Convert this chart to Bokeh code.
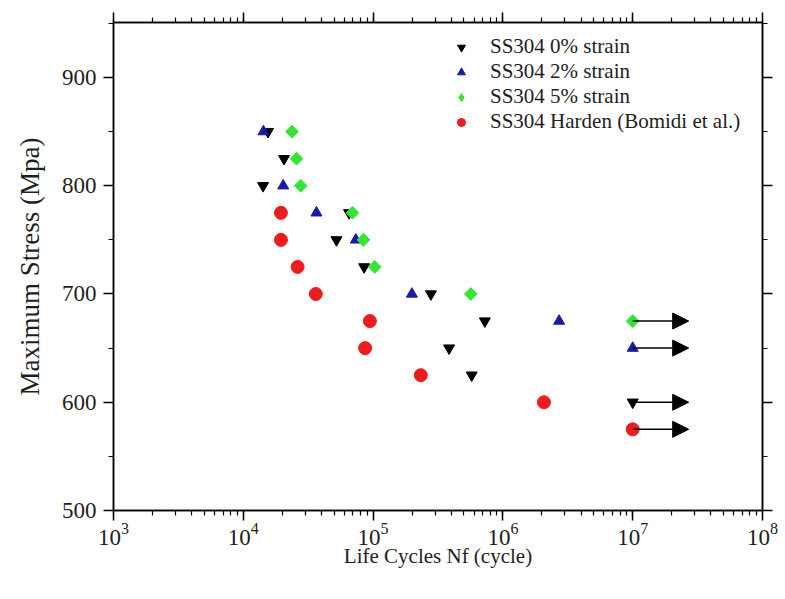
import math
from bokeh.plotting import figure
from bokeh.models import (LogAxis, LinearAxis, Range1d, LogTicker, SingleIntervalTicker,
                          Legend, LegendItem, Arrow, NormalHead, CustomJSTickFormatter)
from bokeh.embed import file_html
from bokeh.resources import INLINE

# ---- data ----
s0_cycles = [15500, 20600, 14200, 65300, 52200, 85300, 279000, 726000, 385000, 575000, 1.0e7]
s0_stress = [850, 825, 800, 775, 750, 725, 700, 675, 650, 625, 600]

s2_cycles = [14300, 20300, 36600, 73600, 199000, 2710000, 1.0e7]
s2_stress = [850, 800, 775, 750, 700, 675, 650]

s5_cycles = [23700, 25700, 27700, 69300, 84300, 103000, 566000, 1.0e7]
s5_stress = [850, 825, 800, 775, 750, 725, 700, 675]

hard_cycles = [19500, 19500, 26200, 36200, 94400, 86800, 233000, 2070000, 1.0e7]
hard_stress = [775, 750, 725, 700, 675, 650, 625, 600, 575]

# run-out arrows (start, end, stress)
runout_start = [1.0e7, 1.0e7, 1.0e7, 1.0e7]
runout_end = [2.7e7, 2.7e7, 2.7e7, 2.7e7]
runout_stress = [675, 650, 600, 575]

labels = ["SS304 0% strain", "SS304 2% strain", "SS304 5% strain",
          "SS304 Harden (Bomidi et al.)"]

FONT = "Liberation Serif"
TXT = "#1e1e1e"
GREEN = "#33e633"

p = figure(width=785, height=599, x_axis_type="log",
           x_range=Range1d(1e3, 1e8), y_range=Range1d(500, 950.8),
           output_backend="svg", toolbar_location=None,
           min_border_left=113, min_border_right=23, min_border_top=22, min_border_bottom=89,
           frame_width=649, frame_height=488)
p.background_fill_color = "white"
p.border_fill_color = "white"
p.outline_line_color = "black"
p.outline_line_width = 1.5
p.xgrid.visible = False
p.ygrid.visible = False

# arrows
for xs, xe, yv in zip(runout_start, runout_end, runout_stress):
    p.add_layout(Arrow(end=NormalHead(size=16, fill_color="black", line_color="black"),
                       x_start=xs, y_start=yv, x_end=xe, y_end=yv,
                       line_color="black", line_width=1.5))

r0 = p.scatter(s0_cycles, s0_stress, marker="inverted_triangle", size=11,
               fill_color="black", line_color="black")
r2 = p.scatter(s2_cycles, s2_stress, marker="triangle", size=11,
               fill_color="#1a1aa8", line_color="#1a1aa8")
# diamond key glyph (drawn underneath, fully covered by the square diamonds)
r5_key = p.scatter(s5_cycles, s5_stress, marker="diamond", size=12,
                   fill_color=GREEN, line_color=GREEN)
r5 = p.scatter(s5_cycles, s5_stress, marker="square", size=9, angle=math.pi / 4,
               fill_color=GREEN, line_color=GREEN)
rh = p.scatter(hard_cycles, hard_stress, marker="circle", size=13,
               fill_color="#ee1c1c", line_color="#ee1c1c")

# axes styling
xa = p.xaxis[0]
xa.ticker = LogTicker(num_minor_ticks=10)
ya = p.yaxis[0]
ya.ticker = SingleIntervalTicker(interval=100, num_minor_ticks=2)
for ax in (xa, ya):
    ax.major_tick_out = 10
    ax.major_tick_in = 0
    ax.minor_tick_out = 5
    ax.minor_tick_in = 0
    ax.axis_line_width = 1.5
    ax.major_tick_line_width = 1.5
    ax.minor_tick_line_width = 1.2
    ax.major_label_text_font = FONT
    ax.major_label_text_font_size = "23px"
    ax.major_label_text_color = TXT
    ax.axis_label_text_font = FONT
    ax.axis_label_text_font_style = "normal"
    ax.axis_label_text_color = TXT

xa.axis_label = "Life Cycles Nf (cycle)"
xa.axis_label_text_font_size = "21px"
xa.major_label_standoff = 2
xa.axis_label_standoff = -4
ya.axis_label = "Maximum Stress (Mpa)"
ya.axis_label_text_font_size = "27px"
ya.major_label_standoff = 7
ya.axis_label_standoff = 14

blank = CustomJSTickFormatter(code="return ''")
top = LogAxis(ticker=LogTicker(num_minor_ticks=10), formatter=blank)
right = LinearAxis(ticker=SingleIntervalTicker(interval=100, num_minor_ticks=2), formatter=blank)
for ax in (top, right):
    ax.major_tick_out = 10
    ax.major_tick_in = 0
    ax.minor_tick_out = 5
    ax.minor_tick_in = 0
    ax.axis_line_width = 1.5
    ax.major_tick_line_width = 1.5
    ax.minor_tick_line_width = 1.2
    ax.major_label_text_font_size = "0px"
p.add_layout(top, "above")
p.add_layout(right, "right")

legend = Legend(items=[LegendItem(label=labels[0], renderers=[r0]),
                       LegendItem(label=labels[1], renderers=[r2]),
                       LegendItem(label=labels[2], renderers=[r5_key]),
                       LegendItem(label=labels[3], renderers=[rh])],
                location=(338, 376), border_line_color=None, background_fill_alpha=0,
                label_text_font=FONT, label_text_font_size="21px", label_text_color=TXT,
                glyph_width=20, glyph_height=24, label_height=24, spacing=0,
                label_standoff=19, padding=5, margin=0)
p.add_layout(legend, "center")

open("out.html", "w").write(file_html(p, INLINE))
